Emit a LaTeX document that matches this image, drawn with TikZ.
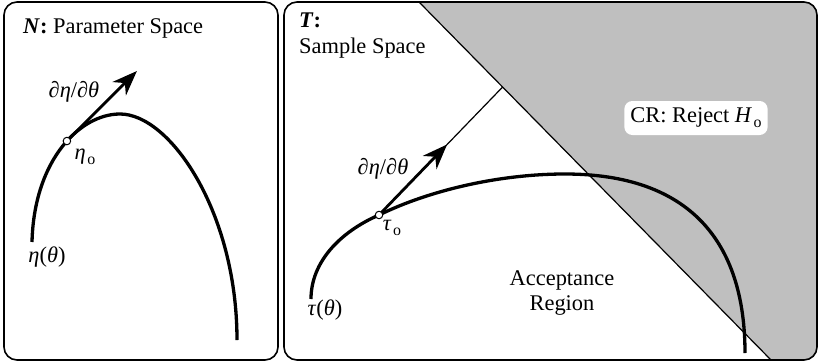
\documentclass[tikz,border=0pt]{standalone}
\usepackage{fontspec}
\setmainfont{Liberation Serif}
\usetikzlibrary{arrows.meta}

\newcommand{\subo}{\kern1.5bp\raisebox{-5bp}{\fontsize{16}{16}\selectfont o}}

\begin{document}
\begin{tikzpicture}[x=1bp, y=1bp,
    marco/.style={rounded corners=13bp, line width=1.6bp},
    curva/.style={line width=3.3bp},
    fina/.style={line width=1.2bp},
    flecha/.style={line width=2.8bp, -{Stealth[length=25bp, width=19bp, inset=8bp]}},
    punto/.style={circle, draw, fill=white, line width=1bp, inner sep=0pt, minimum size=7.5bp},
    etiq/.style={font=\fontsize{22.5}{25}\selectfont, inner sep=1bp},
    region/.style={fill=black!25}]
  \useasboundingbox (0,0) rectangle (819,362);

  % Espacio de parámetros
  \draw[marco] (4,2) rectangle (278,360);
  \node[etiq, anchor=base west] (tit-n) at (22,329) {\textbf{\textit{N}:} Parameter Space};
  \draw[curva] (32,120) .. controls (34,202) and (80,248) .. (120,248) coordinate[pos=0.55] (eta0)
    .. controls (170,248) and (237,150) .. (237,22);
  \draw[flecha] (eta0) -- ++(45:99) coordinate (eta-tip);
  \node[punto] (p-eta) at (eta0) {};
  \node[etiq] (d-eta) at (74,270) {∂\textit{η}/∂\textit{θ}};
  \node[etiq] (eta-o) at (85,205) {\textit{η}\subo};
  \node[etiq] (eta-th) at (47,105) {\textit{η}(\textit{θ})};

  % Espacio muestral: región crítica
  \coordinate (dtop) at (419,360);
  \coordinate (dbot) at (771,2);
  \begin{scope}
    \clip[rounded corners=13bp] (284,2) rectangle (817,360);
    \fill[region] (dtop) -- (819,362) -- (819,0) -- (dbot) -- cycle;
  \end{scope}
  \draw[fina] (dtop) -- (dbot);
  \draw[marco] (284,2) rectangle (817,360);

  % Curva tau
  \draw[curva] (311,63) .. controls (311,100) and (340,130) .. (379,147) coordinate (tau0)
    .. controls (430,172) and (500,188) .. (565,188)
    .. controls (690,188) and (745,120) .. (745,9);

  % Tangente y flecha
  \path (tau0) ++(46:50) coordinate (tdir);
  \coordinate (tcorte) at (intersection of tau0--tdir and dtop--dbot);
  \draw[fina] (tau0) -- (tcorte);
  \draw[flecha] (tau0) -- ++(46:98) coordinate (tau-tip);
  \node[punto] (p-tau) at (tau0) {};

  % Etiquetas
  \node[etiq, anchor=base west] (tit-t) at (298,335) {\textbf{\textit{T}:}};
  \node[etiq, anchor=base west] (tit-s) at (298,309) {Sample Space};
  \node[etiq] (d-tau) at (383,193) {∂\textit{η}/∂\textit{θ}};
  \node[etiq] (tau-o) at (392,134) {\textit{τ}\subo};
  \node[etiq] (tau-th) at (325,52) {\textit{τ}(\textit{θ})};
  \node[etiq, align=center] (acept) at (562,69) {Acceptance\\Region};
  \node[etiq, fill=white, rounded corners=8bp, inner xsep=6bp, inner ysep=7bp] (cr) at (696,244) {CR: Reject \textit{H}\subo};
\end{tikzpicture}
\end{document}
